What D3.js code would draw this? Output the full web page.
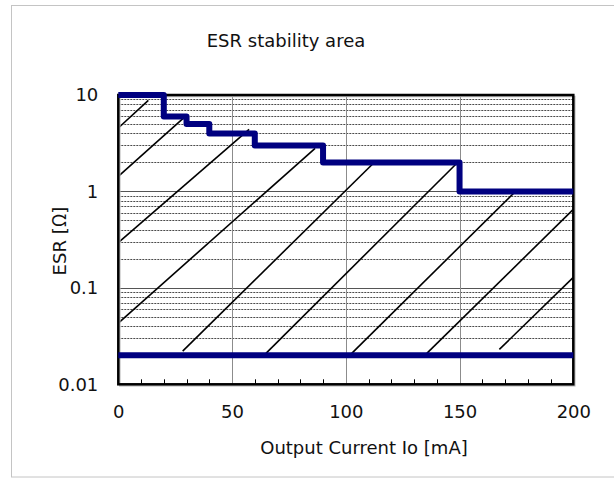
<!DOCTYPE html>
<html>
<head>
<meta charset="utf-8">
<script src="https://cdn.jsdelivr.net/npm/d3@7"></script>
<style>
  html, body { margin: 0; padding: 0; background: #fff; }
  svg { display: block; }
  text { font-family: Verdana, "DejaVu Sans", sans-serif; fill: #111; }
</style>
</head>
<body>
<svg id="chart" width="614" height="478"></svg>
<script>
// Stability boundary: upper ESR limit vs. output current (step edges)
const stepCurrent = [0, 20, 30, 40, 60, 90, 150, 200];
const stepEsr     = [10, 6, 5, 4, 3, 2, 1, 1];
// Lower ESR limit
const lowerCurrent = [0, 200];
const lowerEsr     = [0.02, 0.02];
// Hatching segments of the stable region
const hatchStartCurrent = [0, 0, 0, 0, 28.3, 64.9, 102.6, 135.6, 167.5];
const hatchStartEsr     = [4.55, 1.435, 0.294, 0.0431, 0.0221, 0.0209, 0.0209, 0.0209, 0.023];
const hatchEndCurrent   = [13.2, 29.0, 57.5, 86.5, 112.8, 148.7, 175.1, 200, 200];
const hatchEndEsr       = [8.81, 5.87, 4.41, 2.80, 2.03, 1.95, 1.03, 0.652, 0.1285];
// Axis ticks
const xTickValues = [0, 50, 100, 150, 200];
const yTickValues = [0.01, 0.1, 1, 10];
const yTickLabels = ["0.01", "0.1", "1", "10"];

(function draw() {
  const svg = d3.select("#chart");
  const pLeft = 118.3, pRight = 573.3, pTop = 95, pBottom = 384.3;

  const x = d3.scaleLinear().domain([0, 200]).range([pLeft, pRight]);
  const y = d3.scaleLog().domain([0.01, 10]).range([pBottom, pTop]);

  // outer chart frame
  svg.append("rect")
    .attr("x", 11.5).attr("y", 5.5)
    .attr("width", 610).attr("height", 471.5)
    .attr("fill", "none").attr("stroke", "#c4c4c4").attr("stroke-width", 1);

  // title
  svg.append("text")
    .attr("x", 286).attr("y", 47)
    .attr("text-anchor", "middle")
    .style("font-size", "18px")
    .text("ESR stability area");

  const plot = svg.append("g");

  // minor horizontal grid (2..9 of each decade)
  const minorY = y.ticks().filter(v => !yTickValues.some(t => Math.abs(t - v) / t < 1e-6));
  plot.append("g").selectAll("line").data(minorY).join("line")
    .attr("x1", pLeft).attr("x2", pRight)
    .attr("y1", d => Math.round(y(d)) + 0.5).attr("y2", d => Math.round(y(d)) + 0.5)
    .attr("stroke", "#4a4a4a").attr("stroke-width", 1)
    .attr("stroke-dasharray", "2,1");

  // major horizontal grid
  plot.append("g").selectAll("line").data(yTickValues.slice(1, -1)).join("line")
    .attr("x1", pLeft).attr("x2", pRight)
    .attr("y1", d => Math.round(y(d)) + 0.5).attr("y2", d => Math.round(y(d)) + 0.5)
    .attr("stroke", "#555").attr("stroke-width", 1);

  // vertical grid
  plot.append("g").selectAll("line").data(xTickValues.slice(1, -1)).join("line")
    .attr("x1", d => Math.round(x(d)) + 0.5).attr("x2", d => Math.round(x(d)) + 0.5)
    .attr("y1", pTop).attr("y2", pBottom)
    .attr("stroke", "#8c8c8c").attr("stroke-width", 1);

  // minor x ticks (every 10 mA), pointing into the plot
  const minorX = d3.range(10, 200, 10).filter(v => v % 50 !== 0);
  plot.append("g").selectAll("line").data(minorX).join("line")
    .attr("x1", d => Math.round(x(d)) + 0.5).attr("x2", d => Math.round(x(d)) + 0.5)
    .attr("y1", pBottom - 5).attr("y2", pBottom)
    .attr("stroke", "#000").attr("stroke-width", 1);

  // hatching
  const hatch = hatchStartCurrent.map((c, i) => ({
    x0: c, y0: hatchStartEsr[i], x1: hatchEndCurrent[i], y1: hatchEndEsr[i]
  }));
  plot.append("g").selectAll("line").data(hatch).join("line")
    .attr("x1", d => x(d.x0)).attr("y1", d => y(d.y0))
    .attr("x2", d => x(d.x1)).attr("y2", d => y(d.y1))
    .attr("stroke", "#000").attr("stroke-width", 1.6);

  // plot area border with soft shadow
  plot.append("rect")
    .attr("x", pLeft + 1.5).attr("y", pTop + 1.5)
    .attr("width", pRight - pLeft).attr("height", pBottom - pTop)
    .attr("fill", "none").attr("stroke", "#bbb").attr("stroke-width", 1.5);
  plot.append("rect")
    .attr("x", pLeft).attr("y", pTop)
    .attr("width", pRight - pLeft).attr("height", pBottom - pTop)
    .attr("fill", "none").attr("stroke", "#000").attr("stroke-width", 2.5);

  // boundary lines
  const stepLine = d3.line().x(d => x(d[0])).y(d => y(d[1])).curve(d3.curveStepAfter);
  plot.append("path")
    .datum(stepCurrent.map((c, i) => [c, stepEsr[i]]))
    .attr("d", stepLine)
    .attr("fill", "none").attr("stroke", "#000080").attr("stroke-width", 6)
    .attr("stroke-linejoin", "round");

  const straight = d3.line().x(d => x(d[0])).y(d => y(d[1]));
  plot.append("path")
    .datum(lowerCurrent.map((c, i) => [c, lowerEsr[i]]))
    .attr("d", straight)
    .attr("fill", "none").attr("stroke", "#000080").attr("stroke-width", 6);

  // x axis labels
  const xAxis = d3.axisBottom(x).tickValues(xTickValues).tickSize(0).tickPadding(21);
  const gx = svg.append("g").attr("transform", `translate(0,${pBottom})`).call(xAxis);
  gx.select(".domain").remove();
  gx.attr("font-family", null);
  gx.selectAll("text").style("font-size", "18px").attr("fill", "#111");

  // y axis labels
  const yAxis = d3.axisLeft(y).tickValues(yTickValues)
    .tickFormat((d, i) => yTickLabels[i]).tickSize(0).tickPadding(20);
  const gy = svg.append("g").attr("transform", `translate(${pLeft},0)`).call(yAxis);
  gy.select(".domain").remove();
  gy.attr("font-family", null);
  gy.selectAll("text").style("font-size", "18px").attr("fill", "#111");

  // axis titles
  svg.append("text")
    .attr("x", 364).attr("y", 454)
    .attr("text-anchor", "middle")
    .style("font-size", "18px")
    .text("Output Current Io [mA]");

  const yTitle = svg.append("text")
    .attr("transform", "translate(66,241) rotate(-90)")
    .attr("text-anchor", "middle")
    .style("font-size", "18px");
  yTitle.append("tspan").text("ESR [");
  yTitle.append("tspan").style("font-family", '"Noto Sans CJK JP", "DejaVu Sans", sans-serif').text("Ω");
  yTitle.append("tspan").text("]");
})();
</script>
</body>
</html>
